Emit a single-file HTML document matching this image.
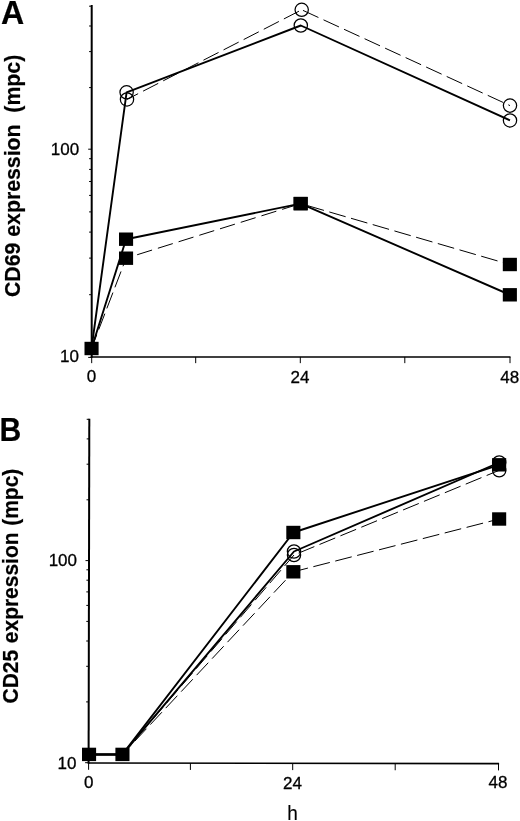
<!DOCTYPE html>
<html><head><meta charset="utf-8"><title>Figure</title>
<style>
html,body{margin:0;padding:0;background:#fff;}
svg{display:block}
text{font-family:"Liberation Sans",Arial,Helvetica,sans-serif;fill:#000}
</style></head><body>
<svg width="520" height="821" viewBox="0 0 520 821">
<rect width="520" height="821" fill="#fff"/>
<line x1="91.7" y1="4.9" x2="91.7" y2="357.8" stroke="#000" stroke-width="2"/>
<line x1="90.7" y1="356.95" x2="510.5" y2="356.95" stroke="#000" stroke-width="1.55"/>
<g stroke="#000" stroke-width="1" fill="none">
<line x1="88.2" y1="357.4" x2="91.7" y2="357.4"/>
<line x1="89.1" y1="294.7" x2="91.7" y2="294.7"/>
<line x1="89.1" y1="258.1" x2="91.7" y2="258.1"/>
<line x1="89.1" y1="232.1" x2="91.7" y2="232.1"/>
<line x1="89.1" y1="211.9" x2="91.7" y2="211.9"/>
<line x1="89.1" y1="195.4" x2="91.7" y2="195.4"/>
<line x1="89.1" y1="181.5" x2="91.7" y2="181.5"/>
<line x1="89.1" y1="169.4" x2="91.7" y2="169.4"/>
<line x1="89.1" y1="158.7" x2="91.7" y2="158.7"/>
<line x1="88.2" y1="149.2" x2="91.7" y2="149.2"/>
<line x1="89.1" y1="87.6" x2="91.7" y2="87.6"/>
<line x1="89.1" y1="51.6" x2="91.7" y2="51.6"/>
<line x1="89.1" y1="26.0" x2="91.7" y2="26.0"/>
<line x1="89.1" y1="6.2" x2="91.7" y2="6.2"/>
<line x1="91.7" y1="356.95" x2="91.7" y2="363.15"/>
<line x1="195.7" y1="356.95" x2="195.7" y2="363.15"/>
<line x1="300.3" y1="356.95" x2="300.3" y2="363.15"/>
<line x1="404.8" y1="356.95" x2="404.8" y2="363.15"/>
<line x1="510.0" y1="356.95" x2="510.0" y2="363.15"/>
</g>
<line x1="127.0" y1="99.4" x2="301.7" y2="9.8" stroke="#000" stroke-width="1" stroke-dasharray="17 5.6" stroke-dashoffset="4.5"/>
<line x1="301.7" y1="9.8" x2="510.0" y2="105.6" stroke="#000" stroke-width="1" stroke-dasharray="17 5.6" stroke-dashoffset="21.2"/>
<line x1="91.5" y1="348.5" x2="126.1" y2="258.2" stroke="#000" stroke-width="1" stroke-dasharray="17 5.6" stroke-dashoffset="2.3"/>
<line x1="126.1" y1="258.2" x2="300.6" y2="203.6" stroke="#000" stroke-width="1" stroke-dasharray="15.6 6.1" stroke-dashoffset="10.1"/>
<line x1="300.6" y1="203.6" x2="509.8" y2="264.5" stroke="#000" stroke-width="1" stroke-dasharray="17 5.6" stroke-dashoffset="15.3"/>
<polyline points="91.5,348.5 126.6,92.3 300.8,25.5 510.0,120.4" fill="none" stroke="#000" stroke-width="1.9" stroke-linejoin="round"/>
<polyline points="91.5,348.5 126.1,239.2 300.6,203.6 509.8,294.8" fill="none" stroke="#000" stroke-width="1.9" stroke-linejoin="round"/>
<circle cx="126.6" cy="92.3" r="6.65" fill="none" stroke="#000" stroke-width="1.25"/>
<circle cx="300.8" cy="25.5" r="6.65" fill="none" stroke="#000" stroke-width="1.25"/>
<circle cx="510.0" cy="120.4" r="6.65" fill="none" stroke="#000" stroke-width="1.25"/>
<circle cx="127.0" cy="99.4" r="6.65" fill="none" stroke="#000" stroke-width="1.25"/>
<circle cx="301.7" cy="9.8" r="6.65" fill="none" stroke="#000" stroke-width="1.25"/>
<circle cx="510.0" cy="105.6" r="6.65" fill="none" stroke="#000" stroke-width="1.25"/>
<rect x="84.5" y="341.8" width="14.1" height="13.4" fill="#000"/>
<rect x="119.0" y="232.5" width="14.1" height="13.4" fill="#000"/>
<rect x="293.6" y="196.9" width="14.1" height="13.4" fill="#000"/>
<rect x="502.8" y="288.1" width="14.1" height="13.4" fill="#000"/>
<rect x="119.0" y="251.5" width="14.1" height="13.4" fill="#000"/>
<rect x="293.6" y="196.9" width="14.1" height="13.4" fill="#000"/>
<rect x="502.8" y="257.8" width="14.1" height="13.4" fill="#000"/>
<line x1="89.3" y1="418.7" x2="88.60000000000001" y2="763.85" stroke="#000" stroke-width="2"/>
<line x1="88.2" y1="763.0" x2="499.1" y2="763.6" stroke="#000" stroke-width="1.55"/>
<g stroke="#000" stroke-width="1" fill="none">
<line x1="85.1" y1="762.7" x2="88.6" y2="762.7"/>
<line x1="86.1" y1="701.9" x2="88.7" y2="701.9"/>
<line x1="86.2" y1="666.3" x2="88.8" y2="666.3"/>
<line x1="86.2" y1="641.0" x2="88.8" y2="641.0"/>
<line x1="86.3" y1="621.4" x2="88.9" y2="621.4"/>
<line x1="86.3" y1="605.4" x2="88.9" y2="605.4"/>
<line x1="86.3" y1="591.9" x2="88.9" y2="591.9"/>
<line x1="86.4" y1="580.2" x2="89.0" y2="580.2"/>
<line x1="86.4" y1="569.8" x2="89.0" y2="569.8"/>
<line x1="85.5" y1="560.6" x2="89.0" y2="560.6"/>
<line x1="86.5" y1="499.8" x2="89.1" y2="499.8"/>
<line x1="86.6" y1="464.2" x2="89.2" y2="464.2"/>
<line x1="86.7" y1="438.9" x2="89.3" y2="438.9"/>
<line x1="86.7" y1="419.3" x2="89.3" y2="419.3"/>
<line x1="88.6" y1="763.00" x2="88.6" y2="769.80"/>
<line x1="190.4" y1="763.15" x2="190.4" y2="769.95"/>
<line x1="292.7" y1="763.30" x2="292.7" y2="770.10"/>
<line x1="395.2" y1="763.45" x2="395.2" y2="770.25"/>
<line x1="498.5" y1="763.60" x2="498.5" y2="770.40"/>
</g>
<line x1="122.4" y1="754.4" x2="294.0" y2="555.0" stroke="#000" stroke-width="1" stroke-dasharray="17 5.6" stroke-dashoffset="0"/>
<line x1="294.0" y1="555.0" x2="499.2" y2="470.3" stroke="#000" stroke-width="1" stroke-dasharray="17 5.6" stroke-dashoffset="17.6"/>
<line x1="122.4" y1="754.4" x2="293.4" y2="571.8" stroke="#000" stroke-width="1" stroke-dasharray="17 5.6" stroke-dashoffset="4.4"/>
<line x1="293.4" y1="571.8" x2="499.2" y2="519.0" stroke="#000" stroke-width="1" stroke-dasharray="17 5.6" stroke-dashoffset="2"/>
<polyline points="89.0,754.4 122.4,754.4 294.0,551.5 499.2,462.5" fill="none" stroke="#000" stroke-width="1.9" stroke-linejoin="round"/>
<polyline points="89.0,754.4 122.4,754.4 293.4,532.5 499.2,464.8" fill="none" stroke="#000" stroke-width="1.9" stroke-linejoin="round"/>
<line x1="89.0" y1="754.6" x2="122.4" y2="754.6" stroke="#000" stroke-width="2.4"/>
<circle cx="294.0" cy="551.5" r="6.65" fill="none" stroke="#000" stroke-width="1.25"/>
<circle cx="499.2" cy="462.5" r="6.65" fill="none" stroke="#000" stroke-width="1.25"/>
<circle cx="294.0" cy="555.0" r="6.65" fill="none" stroke="#000" stroke-width="1.25"/>
<circle cx="499.2" cy="470.3" r="6.65" fill="none" stroke="#000" stroke-width="1.25"/>
<rect x="82.0" y="747.7" width="14.1" height="13.4" fill="#000"/>
<rect x="115.4" y="747.7" width="14.1" height="13.4" fill="#000"/>
<rect x="286.3" y="525.8" width="14.1" height="13.4" fill="#000"/>
<rect x="492.1" y="458.1" width="14.1" height="13.4" fill="#000"/>
<rect x="286.3" y="565.1" width="14.1" height="13.4" fill="#000"/>
<rect x="492.1" y="512.3" width="14.1" height="13.4" fill="#000"/>
<text transform="translate(1.1,23.5) scale(0.965,1.0)" font-size="33.3" text-anchor="start" font-weight="700" stroke="#000" stroke-width="0.2">A</text>
<text transform="translate(-0.4,441.1) scale(0.905,1.0)" font-size="33.3" text-anchor="start" font-weight="700" stroke="#000" stroke-width="0.2">B</text>
<text transform="translate(19.7,297.0) rotate(-90) scale(0.9895,1.0)" font-size="21.5" text-anchor="start" font-weight="700" stroke="#000" stroke-width="0.2">CD69 expression&#160;&#160;(mpc)</text>
<text transform="translate(17.7,703.5) rotate(-90) scale(0.985,1.0)" font-size="21.3" text-anchor="start" font-weight="700" word-spacing="0.9" stroke="#000" stroke-width="0.2">CD25 expression (mpc)</text>
<text transform="translate(79.2,154.6) scale(1.0,1.0)" font-size="17" text-anchor="end" stroke="#000" stroke-width="0.3">100</text>
<text transform="translate(78.9,361.8) scale(1.0,1.0)" font-size="17" text-anchor="end" stroke="#000" stroke-width="0.3">10</text>
<text transform="translate(91.5,381.9) scale(1.0,1.0)" font-size="17" text-anchor="middle" stroke="#000" stroke-width="0.3">0</text>
<text transform="translate(299.9,382.7) scale(1.0,1.0)" font-size="17" text-anchor="middle" stroke="#000" stroke-width="0.3">24</text>
<text transform="translate(509.8,382.7) scale(1.0,1.0)" font-size="17" text-anchor="middle" stroke="#000" stroke-width="0.3">48</text>
<text transform="translate(77.0,566.1) scale(1.0,1.0)" font-size="17" text-anchor="end" stroke="#000" stroke-width="0.3">100</text>
<text transform="translate(76.4,768.5) scale(1.0,1.0)" font-size="17" text-anchor="end" stroke="#000" stroke-width="0.3">10</text>
<text transform="translate(88.7,788) scale(1.0,1.0)" font-size="17" text-anchor="middle" stroke="#000" stroke-width="0.3">0</text>
<text transform="translate(292.5,788.8) scale(1.0,1.0)" font-size="17" text-anchor="middle" stroke="#000" stroke-width="0.3">24</text>
<text transform="translate(498.0,787.7) scale(1.0,1.0)" font-size="17" text-anchor="middle" stroke="#000" stroke-width="0.3">48</text>
<text transform="translate(292.5,819.6) scale(0.95,1.0)" font-size="20" text-anchor="middle" stroke="#000" stroke-width="0.15">h</text>
</svg>
</body></html>
